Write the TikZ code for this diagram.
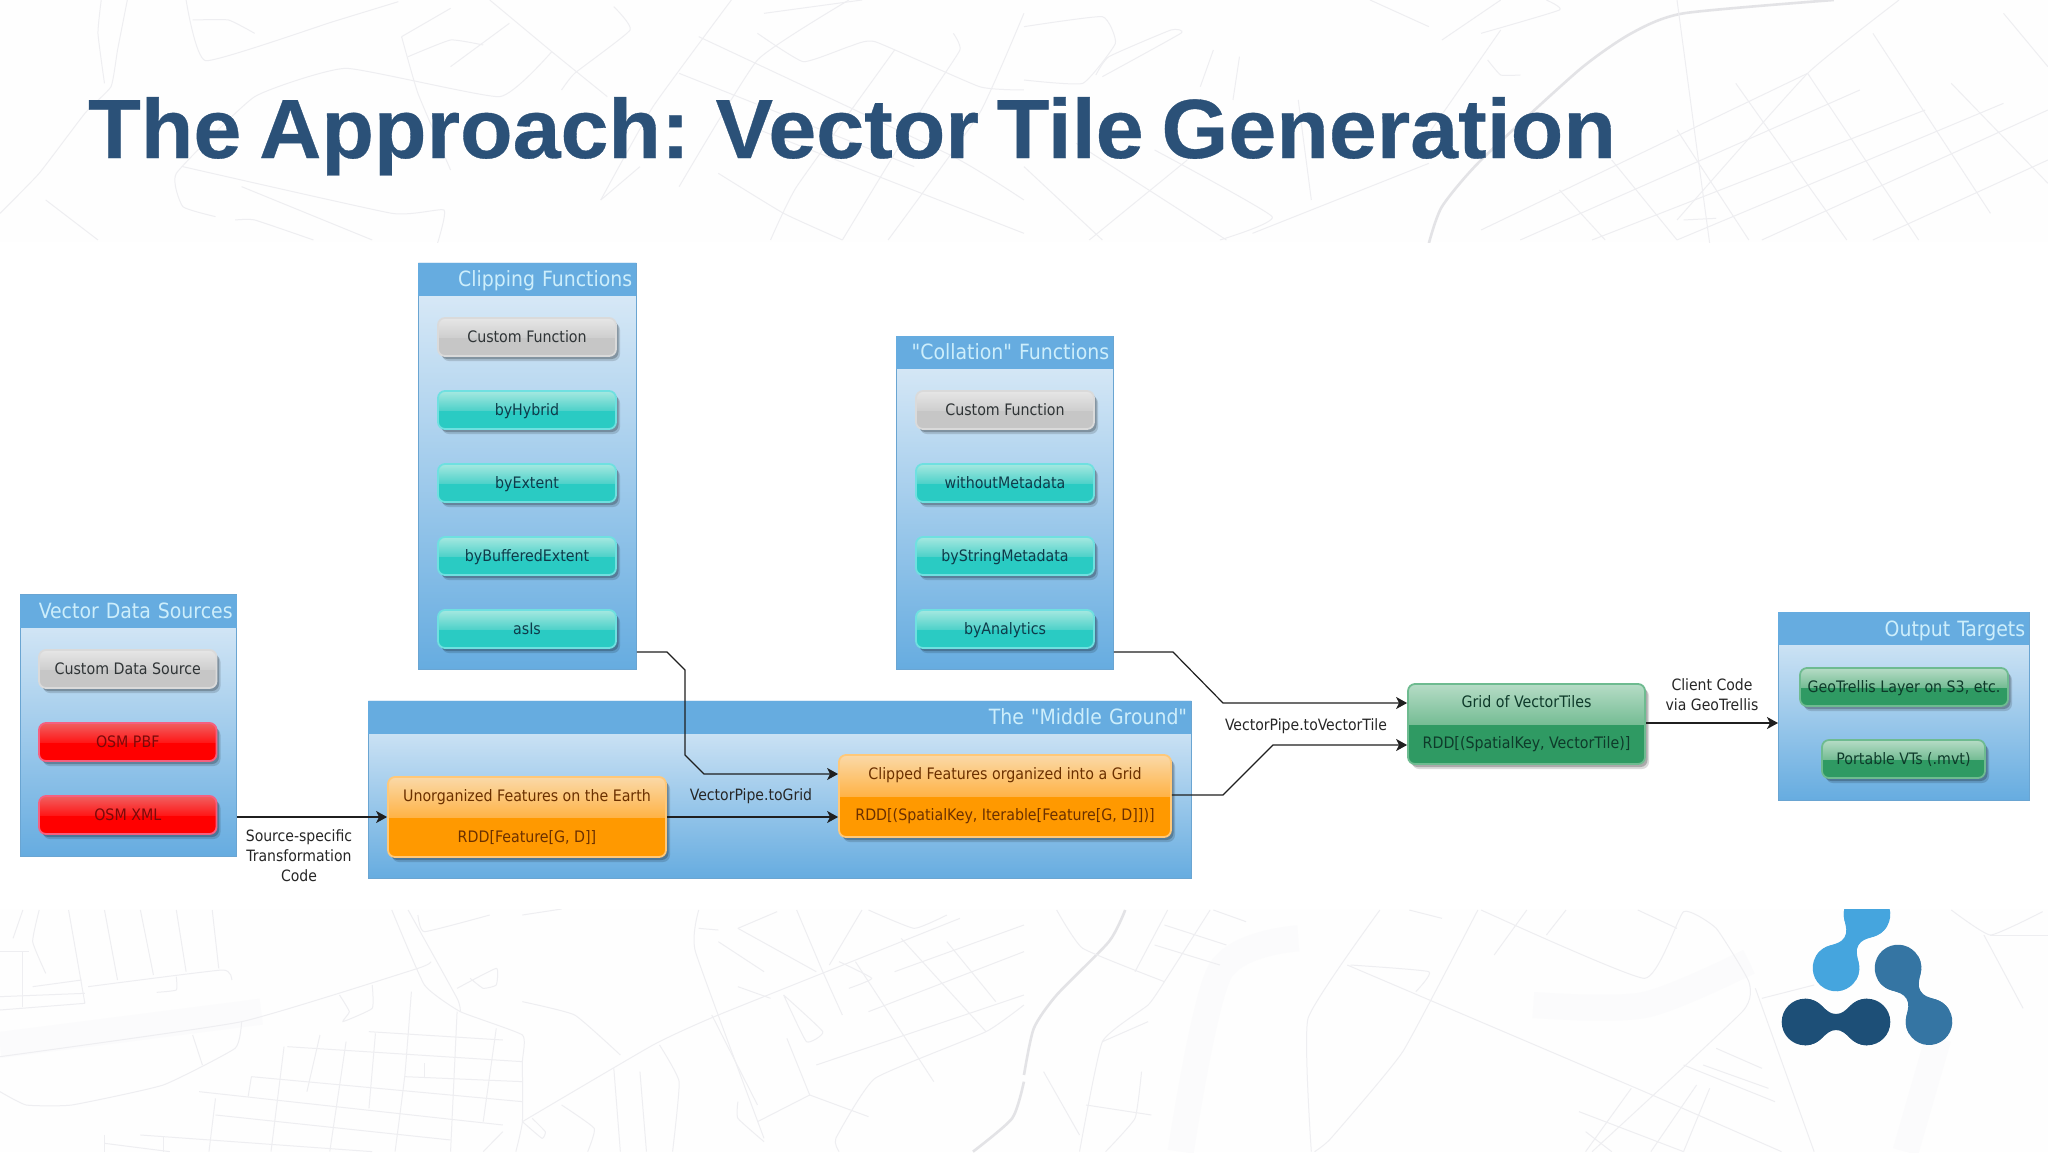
\documentclass[tikz,border=0pt]{standalone}
\usepackage{fontspec}
\setmainfont{DejaVu Sans Condensed}
\newfontfamily\panelfont{DejaVu Sans Condensed}
\newfontfamily\headfont[FakeStretch=1.025,WordSpace=.75,BoldFeatures={FakeBold=.4}]{Liberation Sans}
\usetikzlibrary{arrows.meta,shadows}
\definecolor{panelblue}{HTML}{66ACE0}
\definecolor{paneltop}{HTML}{E0EDF8}
\definecolor{headtext}{HTML}{CDEEFB}
\definecolor{titleblue}{HTML}{2B5178}
\definecolor{mapline}{HTML}{EEEEF1}
\definecolor{mapband}{HTML}{FBFBFC}
\definecolor{logolight}{HTML}{45A5DE}
\definecolor{logomid}{HTML}{3575A3}
\definecolor{logodark}{HTML}{1D4F77}
\definecolor{gt}{HTML}{E6E6E6}\definecolor{gm}{HTML}{CFCFCF}\definecolor{gb}{HTML}{C6C6C6}\definecolor{gr}{HTML}{DADADA}\definecolor{gx}{HTML}{2F3436}
\definecolor{rt}{HTML}{F06060}\definecolor{rm}{HTML}{FF1818}\definecolor{rb}{HTML}{FF0000}\definecolor{rr}{HTML}{F56080}\definecolor{rx}{HTML}{7A0A0A}
\definecolor{tt}{HTML}{A5E8E0}\definecolor{tm}{HTML}{50D2CA}\definecolor{tb}{HTML}{2ACBC3}\definecolor{tr}{HTML}{6FE0E0}\definecolor{tx}{HTML}{0E3B4A}
\definecolor{ot}{HTML}{FAD9A8}\definecolor{om}{HTML}{FFB347}\definecolor{ob}{HTML}{FF9900}\definecolor{or}{HTML}{FFC878}\definecolor{ox}{HTML}{6B3000}
\definecolor{nt}{HTML}{B6DCC6}\definecolor{nm}{HTML}{76BD95}\definecolor{nb}{HTML}{2F9A63}\definecolor{nr}{HTML}{6EBB90}\definecolor{nx}{HTML}{0E3A2A}
\tikzset{
  x=1pt,y=-1pt,
  bgl/.style={draw=mapline,line width=1pt,line join=round},
  bgthick/.style={draw=mapline!90!gray,line width=2.6pt,line join=round},
  bgwide/.style={draw=mapband,line width=26pt,line join=round},
  panel/.style={rectangle,draw=panelblue!85!gray,line width=.8pt,inner sep=0pt,top color=paneltop,bottom color=panelblue},
  panelhead/.style={rectangle,fill=panelblue,inner xsep=4pt,inner ysep=0pt,minimum height=33pt,text=headtext,text height=15pt,text depth=0pt,font=\panelfont\fontsize{21}{24}\selectfont},
  gloss/.style n args={5}{rectangle,rounded corners=7pt,draw=#4,line width=1.8pt,text=#5,inner sep=0pt,
    font=\fontsize{15.8}{18}\selectfont,
    drop shadow={shadow xshift=4pt,shadow yshift=-5pt,fill=black,opacity=.14},
    drop shadow={shadow xshift=2.5pt,shadow yshift=-3pt,fill=black,opacity=.22},
    path picture={
      \fill[#3,sharp corners] (path picture bounding box.south west) rectangle (path picture bounding box.east);
      \shade[top color=#1,bottom color=#2,sharp corners] (path picture bounding box.north west) rectangle (path picture bounding box.east);
    }},
  oneline/.style={text height=12pt,text depth=1pt},
  graybtn/.style={gloss={gt}{gm}{gb}{gr}{gx}},
  redbtn/.style={gloss={rt}{rm}{rb}{rr}{rx}},
  tealbtn/.style={gloss={tt}{tm}{tb}{tr}{tx}},
  orangebtn/.style={gloss={ot}{om}{ob}{or}{ox}},
  greenbtn/.style={gloss={nt}{nm}{nb}{nr}{nx}},
  conn/.style={draw=black!88,line width=1.2pt,line join=miter,-{Stealth[length=11pt,width=12pt,inset=3pt]}},
  arrowlabel/.style={inner sep=0pt,align=center,text=black!85,font=\fontsize{15.6}{20}\selectfont},
  blob/.pic={
    \fill[pic actions] (0,-23.3) .. controls (17,-23.3) and (19,-8) .. (31,-8) .. controls (43,-8) and (45,-23.3) .. (62,-23.3)
      -- (62,23.3) .. controls (45,23.3) and (43,8) .. (31,8) .. controls (19,8) and (17,23.3) .. (0,23.3) -- cycle;
    \fill[pic actions] (0,0) circle[radius=23.3];
    \fill[pic actions] (62,0) circle[radius=23.3];
  }
}
\newcommand\bgln[1]{\draw[bgl] plot[smooth,tension=.25] coordinates {#1};}
\newcommand\panelbox[6]{%
  \pgfmathsetmacro\pw{#4-#2}\pgfmathsetmacro\ph{#5-#3}\pgfmathsetmacro\ptw{#4-#2-8}%
  \node[panel,minimum width=\pw pt,minimum height=\ph pt,anchor=north west] (#1) at (#2,#3) {};
  \node[panelhead,text width=\ptw pt,align=right,anchor=north west] (#1h) at (#2,#3) {#6};
}
\newcommand\btnbox[7]{%
  \pgfmathsetmacro\pw{#5-#3}\pgfmathsetmacro\ph{#6-#4}\pgfmathsetmacro\pcx{(#3+#5)/2}\pgfmathsetmacro\pcy{(#4+#6)/2}%
  \node[#2,minimum width=\pw pt,minimum height=\ph pt,align=center] (#1) at (\pcx,\pcy) {#7};
}
\begin{document}
\begin{tikzpicture}
\useasboundingbox (0,0) rectangle (2048,1152);
\fill[white] (0,0) rectangle (2048,1152);
% ---- map texture, upper band
\begin{scope}
\clip (0,0) rectangle (2048,242);
\fill[black!.5] (0,0) rectangle (2048,242);
\begin{scope}[xscale=.653,yscale=.3333]
\bgln{(195,0) (180,150) (170,260) (130,340) (60,520) (0,640)}
\bgln{(155,0) (150,100) (160,250)}
\bgln{(285,0) (315,182) (510,65) (610,5)}
\bgln{(295,60) (350,60) (390,100)}
\bgln{(750,0) (845,155) (930,290)}
\bgln{(615,110) (640,280) (690,510)}
\bgln{(615,110) (690,25)}
\bgln{(625,170) (690,120) (740,135)}
\bgln{(780,70) (690,200)}
\bgln{(845,155) (765,290) (530,205) (390,290) (270,520) (280,620) (330,650)}
\bgln{(940,20) (965,90) (880,220) (860,270)}
\bgln{(1120,0) (1000,320) (920,600)}
\bgln{(1070,110) (1460,470) (1568,600)}
\bgln{(1040,220) (1400,500)}
\bgln{(1300,0) (1160,180) (1040,560)}
\bgln{(1170,40) (1320,0)}
\bgln{(1160,100) (1230,185) (1300,140) (1340,125) (1500,260) (1568,270)}
\bgln{(1370,150) (1220,560) (1180,720)}
\bgln{(1460,100) (1470,150) (1420,300) (1290,720)}
\bgln{(1568,40) (1500,340) (1360,720)}
\bgln{(1100,520) (1200,640) (1290,720)}
\bgln{(1150,380) (1568,700)}
\bgln{(370,560) (570,720)}
\bgln{(360,660) (390,660) (480,720)}
\bgln{(280,500) (600,640) (680,630) (670,730)}
\bgln{(70,600) (150,720)}
\bgln{(980,500) (920,600)}
\end{scope}
\begin{scope}[shift={(1024,0)},xscale=.653,yscale=.3333]
\draw[bgthick] plot[smooth,tension=.4] coordinates {(1240,0) (1010,40) (930,100) (850,210) (700,480) (640,620) (620,730)};
\bgln{(1000,0) (1030,440) (1050,730)}
\bgln{(700,690) (1200,220)}
\bgln{(760,720) (1280,270)}
\bgln{(870,720) (1380,330)}
\bgln{(1000,720) (1500,310)}
\bgln{(1130,720) (1568,330)}
\bgln{(1300,720) (1568,480)}
\bgln{(820,570) (890,720)}
\bgln{(900,480) (1000,720)}
\bgln{(1000,390) (1110,720)}
\bgln{(1090,250) (1260,720)}
\bgln{(1200,220) (1370,720)}
\bgln{(1300,100) (1480,640)}
\bgln{(1420,250) (1568,550)}
\bgln{(1500,40) (1568,200)}
\bgln{(420,300) (440,600)}
\bgln{(100,720) (250,480)}
\bgln{(0,500) (120,720)}
\bgln{(80,430) (310,720)}
\bgln{(200,450) (380,650) (300,720)}
\bgln{(350,700) (620,490)}
\bgln{(290,150) (270,260)}
\bgln{(330,170) (320,300)}
\bgln{(120,230) (240,100) (225,90) (130,170) (110,225)}
\bgln{(0,240) (90,250) (140,130) (120,50) (0,80)}
\bgln{(640,120) (730,0)}
\bgln{(530,0) (620,80)}
\bgln{(700,100) (820,30) (800,0)}
\bgln{(710,180) (730,225) (760,225)}
\bgln{(730,90) (620,400)}
\bgln{(1340,0) (1200,220) (1000,660)}
\bgln{(1010,660) (1060,655)}
\end{scope}
\end{scope}
% ---- map texture, lower band
\begin{scope}
\clip (0,909) rectangle (2048,1152);
\fill[black!.4] (0,909) rectangle (2048,1152);
\begin{scope}[shift={(0,905)},xscale=.653,yscale=.3333]
\draw[bgwide] (0,420) -- (400,320);
\bgln{(35,15) (20,100)}
\bgln{(60,15) (50,110) (70,205)}
\bgln{(105,15) (130,295)}
\bgln{(160,15) (180,225)}
\bgln{(215,15) (235,210)}
\bgln{(270,15) (285,200)}
\bgln{(325,15) (335,190)}
\bgln{(0,315) (130,295)}
\bgln{(0,275) (130,265)}
\bgln{(50,245) (125,225)}
\bgln{(35,140) (35,305)}
\bgln{(0,140) (45,140)}
\bgln{(135,245) (340,195) (355,225)}
\bgln{(240,262) (270,255) (270,215)}
\bgln{(0,455) (370,350) (640,190) (660,170)}
\bgln{(600,15) (650,240) (705,320) (800,390) (800,470) (800,650) (790,740)}
\bgln{(625,15) (700,280) (705,320)}
\bgln{(640,30) (650,80) (750,30)}
\bgln{(800,30) (860,12)}
\bgln{(700,250) (760,190) (760,240) (740,250) (720,220)}
\bgln{(370,350) (360,430) (250,540) (110,600) (40,600) (0,560)}
\bgln{(295,390) (310,480)}
\bgln{(520,270) (535,320) (525,350) (570,310) (570,240)}
\bgln{(630,260) (620,510) (605,740)}
\bgln{(700,320) (690,740)}
\bgln{(760,370) (740,650)}
\bgln{(575,385) (565,610)}
\bgln{(490,390) (470,560)}
\bgln{(435,425) (415,740)}
\bgln{(530,410) (505,740)}
\bgln{(385,515) (380,575)}
\bgln{(330,580) (320,740)}
\bgln{(565,380) (770,405)}
\bgln{(440,425) (800,470)}
\bgln{(385,515) (800,590)}
\bgln{(620,515) (800,530)}
\bgln{(305,560) (770,660)}
\bgln{(330,630) (690,705)}
\bgln{(215,690) (570,740)}
\bgln{(160,715) (260,740)}
\bgln{(160,690) (160,740)}
\bgln{(250,695) (250,740)}
\bgln{(650,475) (650,515)}
\bgln{(770,680) (740,740)}
\bgln{(800,650) (1000,420) (1100,330) (1470,40)}
\bgln{(800,650) (830,700) (835,680) (815,640)}
\bgln{(1070,15) (1065,140) (1170,700)}
\bgln{(1070,70) (1100,75)}
\bgln{(1130,70) (1250,200)}
\bgln{(1100,110) (1170,200)}
\bgln{(1130,245) (1180,280)}
\bgln{(1190,20) (1130,70)}
\bgln{(1330,15) (1400,70) (1450,30)}
\bgln{(1220,15) (1260,200) (1290,330)}
\bgln{(1320,15) (1270,180)}
\bgln{(1200,270) (1260,380) (1235,410) (1200,270)}
\bgln{(1285,170) (1335,220) (1300,250)}
\bgln{(1380,100) (1510,380)}
\bgln{(1450,110) (1525,290)}
\bgln{(1310,170) (1430,530)}
\bgln{(1568,60) (1370,200)}
\bgln{(1568,140) (1330,320)}
\bgln{(1568,270) (1250,480)}
\bgln{(1568,300) (1510,380) (1340,520) (1280,700) (1285,740)}
\bgln{(1240,570) (1330,635)}
\bgln{(1240,570) (1160,650)}
\bgln{(1090,330) (1160,600)}
\bgln{(1205,400) (1240,570)}
\bgln{(1130,590) (1130,640) (1170,710)}
\bgln{(1010,420) (1040,530) (1030,740)}
\bgln{(940,490) (950,740)}
\bgln{(980,500) (990,740)}
\bgln{(800,290) (880,330) (950,450)}
\bgln{(860,600) (910,670) (900,740)}
\draw[bgthick] plot[smooth,tension=.4] coordinates {(1568,530) (1550,640) (1490,740)};
\end{scope}
\begin{scope}[shift={(1024,905)},xscale=.653,yscale=.3333]
\draw[bgwide] plot[smooth,tension=.5] coordinates {(420,100) (300,200) (240,740)};
\draw[bgwide] plot[smooth,tension=.5] coordinates {(780,300) (950,300) (1110,170)};
\draw[bgwide] plot[smooth,tension=.5] coordinates {(1400,400) (1350,740)};
\draw[bgthick] plot[smooth,tension=.4] coordinates {(155,15) (130,110) (50,270) (15,370) (0,510)};
\bgln{(50,15) (90,130) (215,230)}
\bgln{(220,15) (170,200)}
\bgln{(285,15) (215,230) (190,300) (120,410) (85,740)}
\bgln{(200,120) (300,180)}
\bgln{(215,60) (310,120)}
\bgln{(290,15) (340,50)}
\bgln{(120,410) (190,350)}
\bgln{(30,500) (85,690)}
\bgln{(95,600) (195,630)}
\bgln{(125,740) (170,640) (180,500)}
\bgln{(545,15) (435,340) (440,740)}
\bgln{(695,15) (580,440) (470,700) (445,740)}
\bgln{(495,180) (950,560) (1160,740)}
\bgln{(500,180) (620,200) (600,260)}
\bgln{(700,15) (950,220) (1010,20) (1060,70) (1110,230) (1100,320) (870,740)}
\bgln{(590,15) (640,40)}
\bgln{(770,15) (720,150)}
\bgln{(830,15) (800,90)}
\bgln{(940,15) (1000,70)}
\bgln{(1120,250) (1210,740)}
\bgln{(1130,280) (1210,240)}
\bgln{(1010,480) (1150,590)}
\bgln{(1040,480) (1140,550)}
\bgln{(1060,430) (1130,490)}
\bgln{(850,620) (1010,740)}
\bgln{(860,680) (900,740)}
\bgln{(930,550) (860,740)}
\bgln{(1030,540) (960,740)}
\bgln{(1050,550) (1010,740)}
\bgln{(1420,15) (1480,90) (1560,20)}
\bgln{(1470,90) (1530,310)}
\bgln{(1480,90) (1568,90)}
\end{scope}
\end{scope}
% ---- title
\node[anchor=base west,inner sep=0pt,text=titleblue,font=\headfont\bfseries\fontsize{84}{90}\selectfont] (title) at (88,158) {The Approach: Vector Tile Generation};
% ---- panels
\panelbox{vds}{19.6}{594.3}{236.4}{855.5}{Vector Data Sources}
\panelbox{clip}{418}{262.5}{636}{669}{Clipping Functions}
\panelbox{coll}{896}{335.6}{1113}{669}{"Collation" Functions}
\panelbox{mid}{368}{700.5}{1191}{878}{The "Middle Ground"}
\panelbox{out}{1778}{612}{2029}{800}{Output Targets}
% ---- buttons
\btnbox{b1}{graybtn,oneline}{39}{650}{216.5}{688}{Custom Data Source}
\btnbox{b2}{redbtn,oneline}{39}{723}{216.5}{761}{OSM PBF}
\btnbox{b3}{redbtn,oneline}{39}{796}{216.5}{834}{OSM XML}
\btnbox{c1}{graybtn,oneline}{438}{318}{616}{356}{Custom Function}
\btnbox{c2}{tealbtn,oneline}{438}{391}{616}{429}{byHybrid}
\btnbox{c3}{tealbtn,oneline}{438}{464}{616}{502}{byExtent}
\btnbox{c4}{tealbtn,oneline}{438}{537}{616}{575}{byBufferedExtent}
\btnbox{c5}{tealbtn,oneline}{438}{610}{616}{648}{asIs}
\btnbox{d1}{graybtn,oneline}{916}{391}{1094}{429}{Custom Function}
\btnbox{d2}{tealbtn,oneline}{916}{464}{1094}{502}{withoutMetadata}
\btnbox{d3}{tealbtn,oneline}{916}{537}{1094}{575}{byStringMetadata}
\btnbox{d4}{tealbtn,oneline}{916}{610}{1094}{648}{byAnalytics}
\btnbox{unorg}{orangebtn}{388}{777}{666}{857}{Unorganized Features on the Earth\\[23pt]RDD[Feature[G, D]]}
\btnbox{clipped}{orangebtn}{839}{755}{1171}{837}{Clipped Features organized into a Grid\\[23pt]RDD[(SpatialKey, Iterable[Feature[G, D]])]}
\btnbox{grid}{greenbtn}{1408}{684}{1645}{764}{Grid of VectorTiles\\[23pt]RDD[(SpatialKey, VectorTile)]}
\btnbox{o1}{greenbtn,oneline}{1800}{668}{2008}{706}{GeoTrellis Layer on S3, etc.}
\btnbox{o2}{greenbtn,oneline}{1822}{740}{1985}{778}{Portable VTs (.mvt)}
% ---- connectors
\coordinate (a1) at (667,652);
\coordinate (a2) at (685,670);
\coordinate (a3) at (685,755);
\coordinate (a4) at (704,774);
\coordinate (e1) at (1173,652);
\coordinate (e2) at (1223,703);
\coordinate (f1) at (1223,795);
\coordinate (f2) at (1273,745);
\draw[conn] (vds.east |- 0,817) -- (unorg.west |- 0,817);
\draw[conn] (clip.east |- a1) -- (a1) -- (a2) -- (a3) -- (a4) -- (clipped.west |- a4);
\draw[conn] (unorg.east |- 0,817) -- (clipped.west |- 0,817);
\draw[conn] (coll.east |- e1) -- (e1) -- (e2) -- (grid.west |- e2);
\draw[conn] (clipped.east |- f1) -- (f1) -- (f2) -- (grid.west |- f2);
\draw[conn] (grid.east |- 0,723) -- (out.west |- 0,723);
% ---- connector labels
\node[arrowlabel] (l1) at (299,856) {Source-specific\\Transformation\\Code};
\node[arrowlabel] (l2) at (751,796) {VectorPipe.toGrid};
\node[arrowlabel] (l3) at (1306,726) {VectorPipe.toVectorTile};
\node[arrowlabel] (l4) at (1712,695) {Client Code\\via GeoTrellis};
% ---- logo
\begin{scope}
\clip (1700,909) rectangle (2048,1152);
\pic[fill=logolight,rotate=60] at (1836,968) {blob};
\end{scope}
\pic[fill=logomid,rotate=-60] at (1898,968) {blob};
\pic[fill=logodark] at (1805,1022) {blob};
\end{tikzpicture}
\end{document}
